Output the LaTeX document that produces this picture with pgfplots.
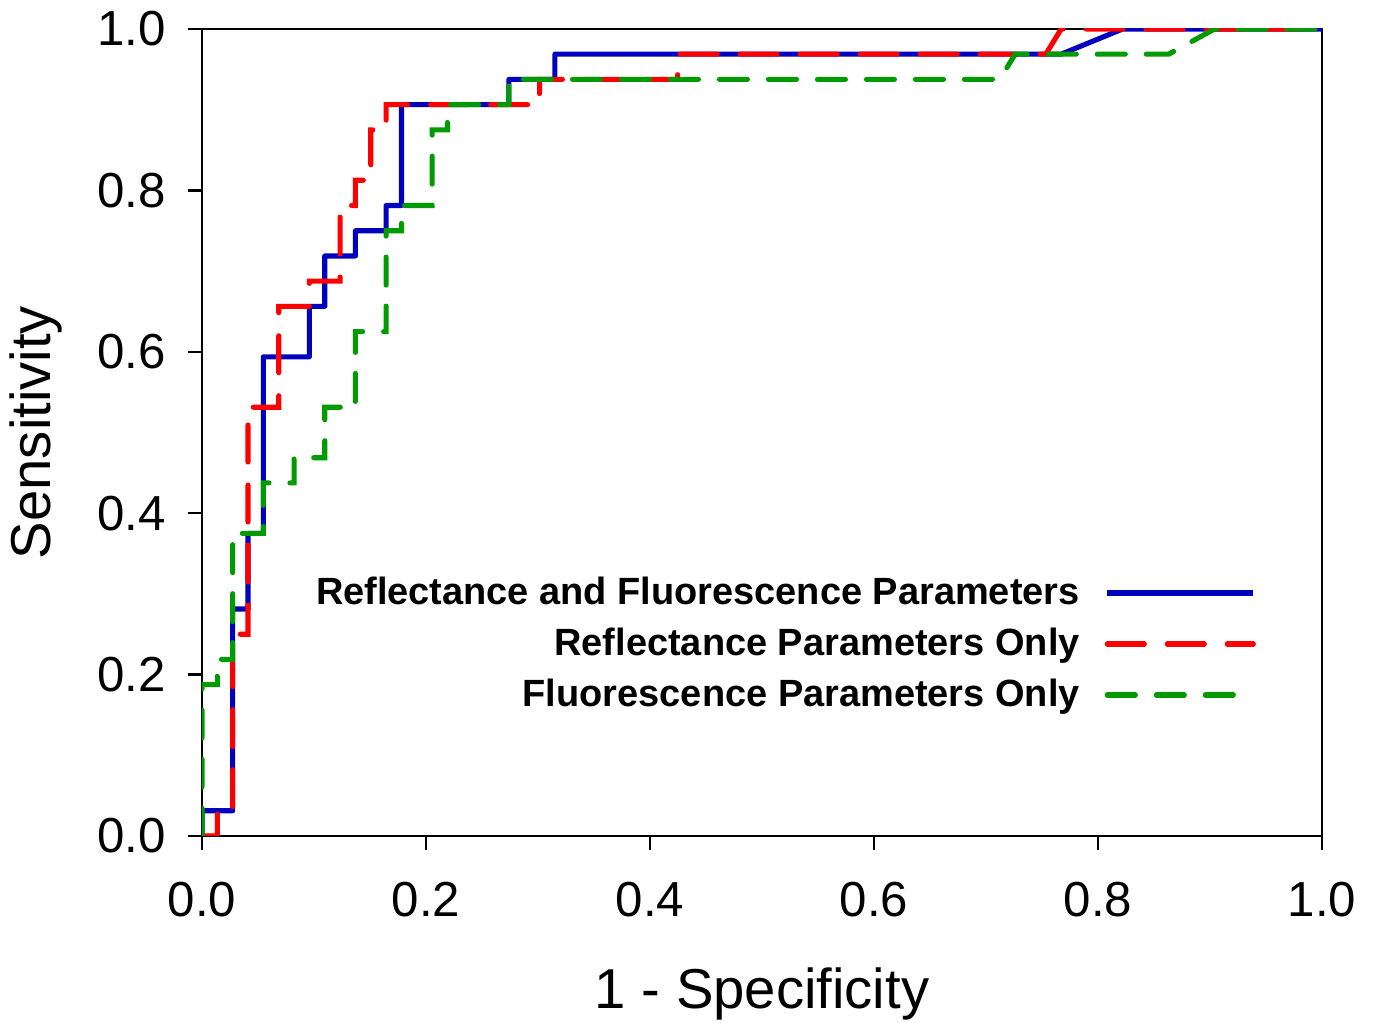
\documentclass[border=0pt]{standalone}
\usepackage{fontspec}
\setmainfont{Liberation Sans}
\usepackage{pgfplots}
\pgfplotsset{compat=1.18}
\definecolor{rocblue}{RGB}{0,0,190}
\definecolor{rocred}{RGB}{255,0,0}
\definecolor{rocgreen}{RGB}{0,155,0}

\begin{document}
\begin{tikzpicture}
\begin{axis}[
    name=ax,
    scale only axis,
    width=11.2cm, height=8.07cm,
    xmin=0, xmax=1, ymin=0, ymax=1,
    xtick={0,0.2,...,1.0}, ytick={0,0.2,...,1.0},
    xtick pos=bottom, ytick pos=left,
    xtick align=outside, ytick align=outside,
    major tick length=0.14cm,
    axis line style={line width=0.7pt},
    major tick style={draw=black, line width=0.7pt},
    /pgf/number format/.cd, fixed, fixed zerofill, precision=1, assume math mode=true,
    /pgfplots/.cd,
    tick label style={font=\fontsize{14}{16}\selectfont},
    xticklabel style={yshift=-0.2cm},
    yticklabel style={xshift=-0.1cm},
    xlabel={1 - Specificity}, ylabel={Sensitivity},
    label style={font=\fontsize{16}{18}\selectfont},
    x label style={at={(axis description cs:0.5,-0.196)}, anchor=center},
    y label style={at={(axis description cs:-0.148,0.5)}, anchor=center},
    legend plot pos=right,
    legend cell align=right,
    legend image code/.code={\draw[#1] (0cm,0cm) -- (1.46cm,0cm);},
    legend style={draw=none, fill=none, at={(0.951,0.2379)}, anchor=east,
        font=\fontsize{10.8}{13}\selectfont\bfseries,
        nodes={inner sep=0pt, text height=0.3cm, text depth=0.08cm},
        row sep=0.13cm, column sep=0.25cm},
]
\addplot[rocblue, line width=1.45pt, line join=round] coordinates {
    (0,0) (0,0.03125) (0.0274,0.03125) (0.0274,0.28125) (0.0411,0.28125)
    (0.0411,0.375) (0.0548,0.375) (0.0548,0.59375) (0.0959,0.59375)
    (0.0959,0.65625) (0.1096,0.65625) (0.1096,0.71875) (0.1370,0.71875)
    (0.1370,0.75) (0.1644,0.75) (0.1644,0.78125) (0.1781,0.78125)
    (0.1781,0.90625) (0.2740,0.90625) (0.2740,0.9375) (0.3151,0.9375)
    (0.3151,0.96875) (0.7671,0.96875) (0.8219,1) (1,1)
};
\addlegendentry{Reflectance and Fluorescence Parameters}
\addplot[rocred, line width=1.45pt, line cap=round, dash pattern=on 0.37cm off 0.23cm] coordinates {
    (0,0) (0.0137,0) (0.0137,0.03125) (0.0274,0.03125) (0.0274,0.25)
    (0.0411,0.25) (0.0411,0.53125) (0.0685,0.53125) (0.0685,0.65625)
    (0.0959,0.65625) (0.0959,0.6875) (0.1233,0.6875) (0.1233,0.78125)
    (0.1370,0.78125) (0.1370,0.8125) (0.1507,0.8125) (0.1507,0.875)
    (0.1644,0.875) (0.1644,0.90625) (0.3014,0.90625) (0.3014,0.9375)
    (0.4247,0.9375) (0.4247,0.96875) (0.7534,0.96875) (0.7671,1) (1,1)
};
\addlegendentry{Reflectance Parameters Only}
\addplot[rocgreen, line width=1.45pt, line cap=round, dash pattern=on 0.28cm off 0.21cm] coordinates {
    (0,0) (0,0.1875) (0.0137,0.1875) (0.0137,0.21875) (0.0274,0.21875)
    (0.0274,0.375) (0.0548,0.375) (0.0548,0.4375) (0.0822,0.4375)
    (0.0822,0.46875) (0.1096,0.46875) (0.1096,0.53125) (0.1370,0.53125)
    (0.1370,0.625) (0.1644,0.625) (0.1644,0.75) (0.1781,0.75)
    (0.1781,0.78125) (0.2055,0.78125) (0.2055,0.875) (0.2192,0.875)
    (0.2192,0.90625) (0.2740,0.90625) (0.2740,0.9375) (0.7123,0.9375)
    (0.7260,0.96875) (0.8630,0.96875) (0.9041,1) (1,1)
};
\addlegendentry{Fluorescence Parameters Only}
\end{axis}
\pgfresetboundingbox
\path (ax.south west) ++(-2.02cm,-1.87cm) rectangle ++(13.74cm,10.23cm);
\end{tikzpicture}
\end{document}
